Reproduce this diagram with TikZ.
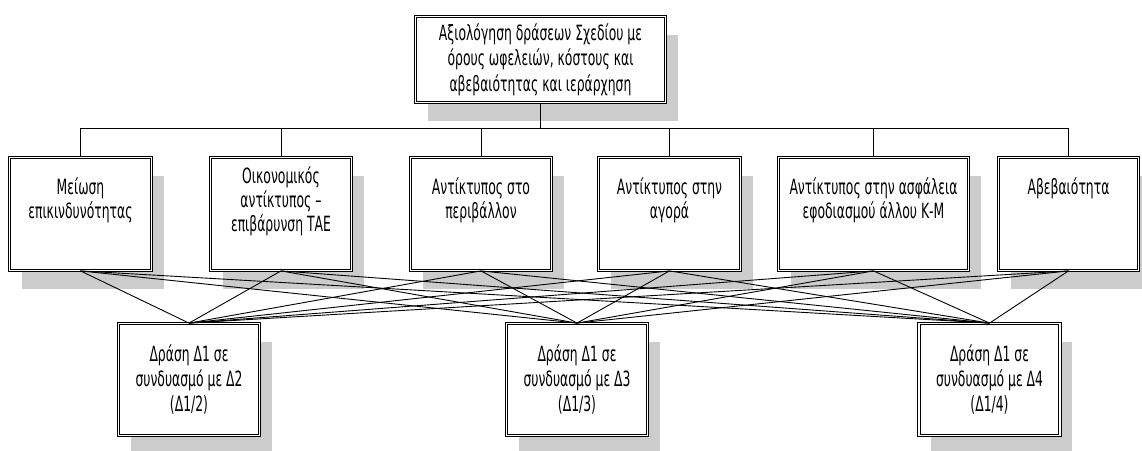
\documentclass[tikz,border=0pt]{standalone}
\usepackage{fontspec}
\setmainfont{DejaVu Sans}[FakeStretch=0.59]
\usetikzlibrary{shadows}
\definecolor{shadowgray}{RGB}{204,204,204}
\tikzset{
  box/.style={draw=black, line width=0.8pt, double, double distance=1.6pt,
    fill=white, inner sep=0pt,
    drop shadow={shadow xshift=12pt, shadow yshift=-18pt, fill=shadowgray, opacity=1}},
  midbox/.style={box, minimum height=113pt},
  actbox/.style={box, minimum width=141pt, minimum height=112pt, align=center,
    font=\fontsize{21}{25}\selectfont},
  lbl/.style={anchor=north, inner sep=0pt, align=center,
    font=\fontsize{21}{24}\selectfont, execute at begin node=\strut},
  wire/.style={line width=0.9pt, black}
}
\begin{document}
\begin{tikzpicture}[x=1pt, y=-1pt]
\useasboundingbox (0,0) rectangle (1142,450);

% top-level goal
\node[box, minimum width=250pt, minimum height=86pt, align=center,
  font=\fontsize{21}{25.5}\selectfont] (goal) at (540.5,59.5)
  {Αξιολόγηση δράσεων Σχεδίου με\\όρους ωφελειών, κόστους και\\αβεβαιότητας και ιεράρχηση};

% criteria
\node[midbox, minimum width=142pt] (c1) at (80.5,214) {};
\node[midbox, minimum width=141pt] (c2) at (281,214) {};
\node[midbox, minimum width=141pt] (c3) at (481,214) {};
\node[midbox, minimum width=142pt] (c4) at (669.5,214) {};
\node[midbox, minimum width=190pt] (c5) at (873.5,214) {};
\node[midbox, minimum width=140pt] (c6) at (1068.5,214) {};

\node[lbl] (l1) at (80.5,177.2) {Μείωση\\επικινδυνότητας};
\node[lbl] (l2) at (281,166.2) {Οικονομικός\\αντίκτυπος –\\επιβάρυνση ΤΑΕ};
\node[lbl] (l3) at (481,177.2) {Αντίκτυπος στο\\περιβάλλον};
\node[lbl] (l4) at (669.5,177.2) {Αντίκτυπος στην\\αγορά};
\node[lbl] (l5) at (873.5,177.2) {Αντίκτυπος στην ασφάλεια\\εφοδιασμού άλλου Κ-Μ};
\node[lbl] (l6) at (1068.5,177.2) {Αβεβαιότητα};

% alternatives
\node[actbox] (a1) at (189,379.5) {Δράση Δ1 σε\\συνδυασμό με Δ2\\(Δ1/2)};
\node[actbox] (a2) at (577,379.5) {Δράση Δ1 σε\\συνδυασμό με Δ3\\(Δ1/3)};
\node[actbox] (a3) at (989.5,379.5) {Δράση Δ1 σε\\συνδυασμό με Δ4\\(Δ1/4)};

% hierarchy bus
\coordinate (bus) at (540.5,128);
\draw[wire] (goal.south) -- (bus);
\foreach \c in {c1,c2,c3,c4,c5,c6}
  \draw[wire] (\c.north) |- (bus);

% every criterion feeds every alternative
\foreach \c in {c1,c2,c3,c4,c5,c6}
  \foreach \a in {a1,a2,a3}
    \draw[wire] (\c.south) -- (\a.north);
\end{tikzpicture}
\end{document}
